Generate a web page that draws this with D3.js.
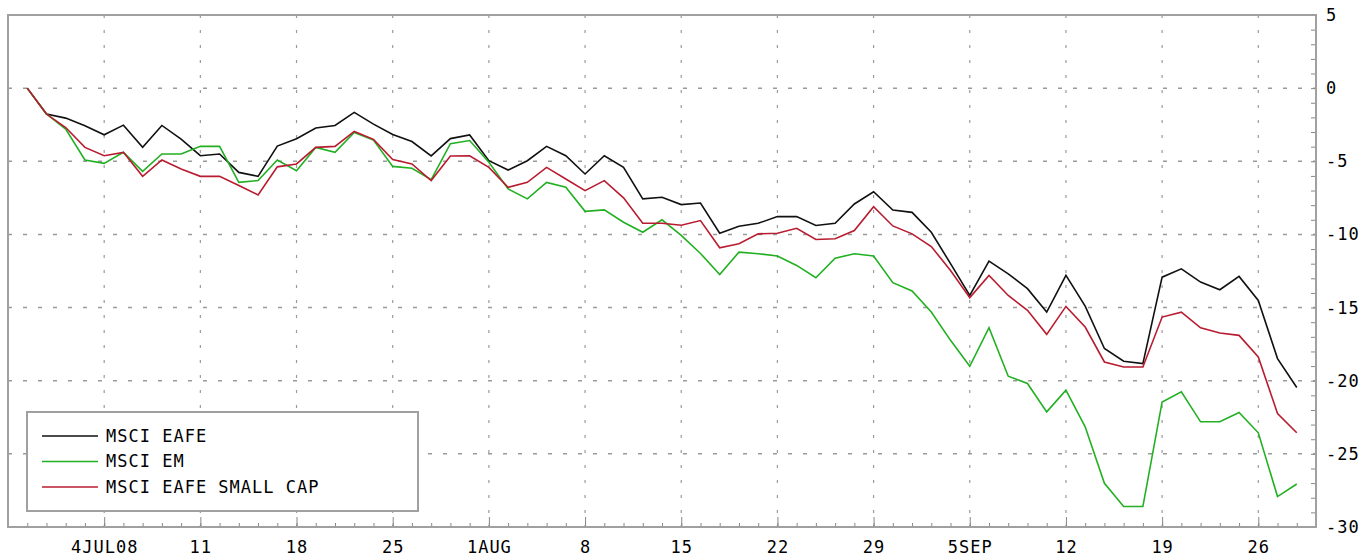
<!DOCTYPE html>
<html>
<head>
<meta charset="utf-8">
<script src="https://cdn.jsdelivr.net/npm/d3@7"></script>
<style>
  body { margin: 0; background: #fff; }
  svg text { font-family: "DejaVu Sans Mono", monospace; font-size: 17px; letter-spacing: 1px; fill: #000; }
</style>
</head>
<body>
<div id="chart"></div>
<script>
// business days from 30 Jun 2008 to 30 Sep 2008, % change since start
const seriesNames = ['MSCI EAFE', 'MSCI EM', 'MSCI EAFE SMALL CAP'];
const seriesColors = ['#111111', '#22b022', '#b81c30'];

const eafe = [0, -1.77, -2.05, -2.57, -3.19, -2.53, -4.05, -2.55, -3.48, -4.62,
  -4.5, -5.76, -6.03, -3.96, -3.46, -2.72, -2.55, -1.66, -2.46, -3.17,
  -3.65, -4.63, -3.45, -3.2, -4.96, -5.6, -4.96, -3.98, -4.62, -5.87,
  -4.62, -5.42, -7.57, -7.46, -7.96, -7.85, -9.92, -9.44, -9.24, -8.78,
  -8.78, -9.39, -9.24, -7.92, -7.08, -8.33, -8.49, -9.85, -12.0, -14.17,
  -11.83, -12.69, -13.71, -15.31, -12.8, -14.9, -17.8, -18.67, -18.83, -12.92,
  -12.35, -13.26, -13.78, -12.87, -14.51, -18.49, -20.46];

const em = [0, -1.77, -2.8, -4.91, -5.14, -4.39, -5.69, -4.5, -4.5, -3.98,
  -3.98, -6.44, -6.32, -4.91, -5.64, -4.05, -4.39, -3.03, -3.55, -5.35,
  -5.48, -6.26, -3.8, -3.58, -5.07, -6.89, -7.57, -6.44, -6.78, -8.42,
  -8.32, -9.17, -9.85, -9.0, -10.07, -11.3, -12.74, -11.21, -11.32, -11.47,
  -12.12, -12.96, -11.63, -11.32, -11.48, -13.3, -13.87, -15.3, -17.24, -19.01,
  -16.37, -19.69, -20.19, -22.13, -20.65, -23.15, -27.01, -28.6, -28.6, -21.45,
  -20.76, -22.81, -22.81, -22.17, -23.56, -27.92, -27.06];

const smallCap = [0, -1.77, -2.69, -4.05, -4.62, -4.39, -6.03, -4.91, -5.53, -6.03,
  -6.03, -6.66, -7.3, -5.38, -5.18, -4.05, -3.98, -2.96, -3.5, -4.88,
  -5.18, -6.32, -4.64, -4.62, -5.42, -6.78, -6.44, -5.42, -6.21, -7.01,
  -6.32, -7.5, -9.24, -9.24, -9.37, -9.05, -10.91, -10.64, -9.96, -9.92,
  -9.58, -10.35, -10.3, -9.73, -8.1, -9.42, -9.96, -10.83, -12.46, -14.32,
  -12.8, -14.17, -15.19, -16.83, -14.92, -16.33, -18.72, -19.06, -19.06, -15.65,
  -15.31, -16.38, -16.74, -16.9, -18.38, -22.24, -23.56];

// Fridays, labelled
const xTickLabels = ['4JUL08', '11', '18', '25', '1AUG', '8', '15', '22', '29', '5SEP', '12', '19', '26'];
const xTickDays = [4, 9, 14, 19, 24, 29, 34, 39, 44, 49, 54, 59, 64];
const yTicks = [5, 0, -5, -10, -15, -20, -25, -30];

const width = 1362, height = 559;
const plotLeft = 8, plotRight = 1316, plotTop = 15, plotBottom = 527;

const svg = d3.select('#chart').append('svg')
    .attr('width', width)
    .attr('height', height);

const x = d3.scaleLinear()
    .domain([-1, 67])
    .range([plotLeft, plotRight]);

const y = d3.scaleLinear()
    .domain([-30, 5])
    .range([plotBottom, plotTop]);

// grid
const grid = svg.append('g');
grid.selectAll('line.h')
    .data(yTicks.filter(d => d < 5 && d > -30))
    .enter().append('line')
    .attr('x1', plotLeft).attr('x2', plotRight)
    .attr('y1', d => y(d)).attr('y2', d => y(d))
    .attr('stroke', '#9a9a9a')
    .attr('stroke-width', 1.5)
    .attr('stroke-dasharray', '4,11');
grid.selectAll('line.v')
    .data(xTickDays)
    .enter().append('line')
    .attr('x1', d => x(d)).attr('x2', d => x(d))
    .attr('y1', plotTop).attr('y2', plotBottom)
    .attr('stroke', '#9a9a9a')
    .attr('stroke-width', 1.2)
    .attr('stroke-dasharray', '3,12');

// tick marks inside the frame
svg.append('g')
    .attr('transform', `translate(0,${plotBottom})`)
    .call(d3.axisBottom(x).tickValues(d3.range(-1, 68)).tickSize(-4).tickFormat(''))
    .call(g => g.select('.domain').remove())
    .selectAll('line').attr('stroke', '#888');
svg.append('g')
    .attr('transform', `translate(0,${plotBottom})`)
    .call(d3.axisBottom(x).tickValues(xTickDays).tickSize(-10).tickFormat(''))
    .call(g => g.select('.domain').remove())
    .selectAll('line').attr('stroke', '#888');
svg.append('g')
    .attr('transform', `translate(${plotRight},0)`)
    .call(d3.axisRight(y).tickValues(d3.range(-30, 6)).tickSize(-5).tickFormat(''))
    .call(g => g.select('.domain').remove())
    .selectAll('line').attr('stroke', '#888');

// labels
const xLab = svg.append('g')
    .attr('transform', `translate(0,${plotBottom})`)
    .call(d3.axisBottom(x).tickValues(xTickDays).tickSize(0).tickPadding(0)
        .tickFormat((d, i) => xTickLabels[i]));
xLab.select('.domain').remove();
xLab.selectAll('text')
    .attr('dy', null)
    .attr('y', 26)
    .attr('font-family', null).attr('font-size', null);

const yLab = svg.append('g')
    .attr('transform', `translate(${plotRight},0)`)
    .call(d3.axisRight(y).tickValues(yTicks).tickSize(0).tickPadding(10)
        .tickFormat(d => String(d)));
yLab.select('.domain').remove();
yLab.selectAll('text').attr('font-family', null).attr('font-size', null);

// frame
svg.append('rect')
    .attr('x', plotLeft).attr('y', plotTop)
    .attr('width', plotRight - plotLeft).attr('height', plotBottom - plotTop)
    .attr('fill', 'none')
    .attr('stroke', '#a0a0a0')
    .attr('stroke-width', 2);

// lines
const allSeries = [eafe, em, smallCap];
const line = d3.line()
    .x((d, i) => x(i))
    .y(d => y(d));

svg.append('g').selectAll('path')
    .data(allSeries)
    .enter().append('path')
    .attr('d', line)
    .attr('fill', 'none')
    .attr('stroke', (d, i) => seriesColors[i])
    .attr('stroke-width', 1.6)
    .attr('stroke-linejoin', 'miter');

// legend
const legend = svg.append('g');
legend.append('rect')
    .attr('x', 27).attr('y', 412)
    .attr('width', 391).attr('height', 99)
    .attr('fill', '#fff')
    .attr('stroke', '#a0a0a0')
    .attr('stroke-width', 2);
const item = legend.selectAll('g.item')
    .data(seriesNames)
    .enter().append('g')
    .attr('transform', (d, i) => `translate(42,${436 + i * 25.5})`);
item.append('line')
    .attr('x1', 0).attr('x2', 56)
    .attr('stroke', (d, i) => seriesColors[i])
    .attr('stroke-width', 1.6);
item.append('text')
    .attr('x', 64)
    .attr('dy', '0.35em')
    .text(d => d);
</script>
</body>
</html>
